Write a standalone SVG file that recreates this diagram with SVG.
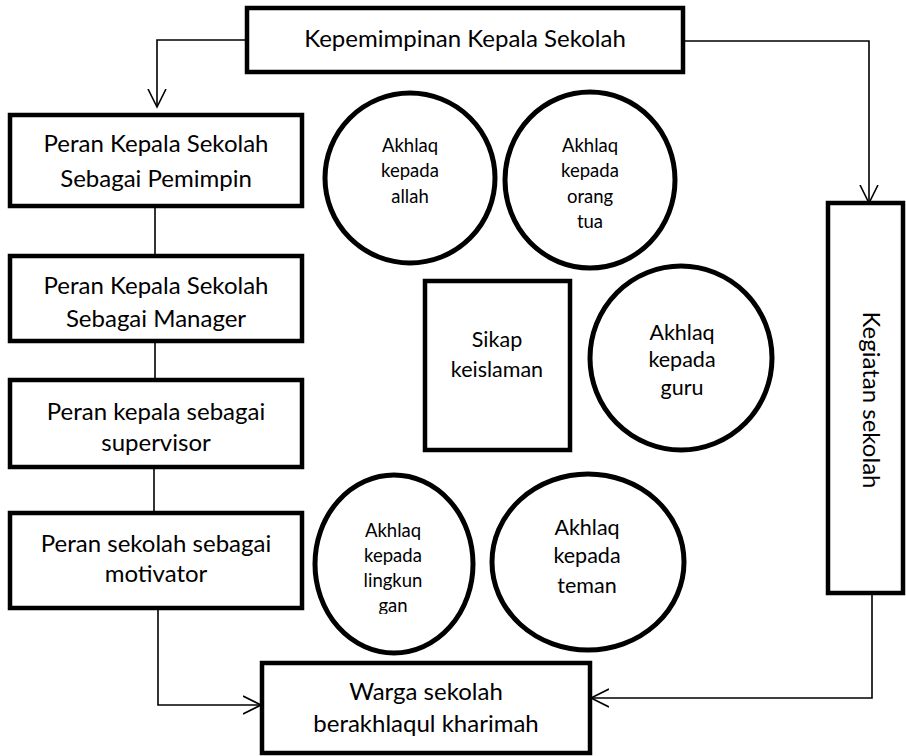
<svg xmlns="http://www.w3.org/2000/svg" width="906" height="756" viewBox="0 0 906 756">
<style>
.box{fill:#fff;stroke:#000;stroke-width:4.5}
.circ{fill:#fff;stroke:#000;stroke-width:5}
.con{fill:none;stroke:#000;stroke-width:1.6}
text{font-family:Lato,"Open Sans","Liberation Sans",sans-serif;fill:#000;text-anchor:middle}
.t24{font-size:24px}
.t22{font-size:21.5px}
.t18{font-size:18.5px}
</style>
<defs>
<marker id="arr" markerWidth="22" markerHeight="22" refX="18" refY="10" orient="auto" markerUnits="userSpaceOnUse">
<path d="M0,1 L18,10 L0,19" fill="none" stroke="#000" stroke-width="1.6"/>
</marker>
<clipPath id="clipL"><rect x="300" y="470" width="200" height="144"/></clipPath>
</defs>
<rect width="906" height="756" fill="#fff"/>
<g id="connectors">
<path class="con" d="M247,40 H157 V107" marker-end="url(#arr)"/>
<path class="con" d="M683,41 H869 V203" marker-end="url(#arr)"/>
<path class="con" d="M155,208 V254"/>
<path class="con" d="M155,343 V378"/>
<path class="con" d="M154,469 V511"/>
<path class="con" d="M158,610 V705 H261" marker-end="url(#arr)"/>
<path class="con" d="M872,595 V698 H591" marker-end="url(#arr)"/>
</g>
<g id="kepemimpinan">
<rect class="box" x="247" y="8" width="436" height="64"/>
<text class="t24" x="465" y="47">Kepemimpinan Kepala Sekolah</text>
</g>
<g id="pemimpin">
<rect class="box" x="10" y="115" width="292" height="91"/>
<text class="t24" x="156" y="152">Peran Kepala Sekolah</text>
<text class="t24" x="156" y="187">Sebagai Pemimpin</text>
</g>
<g id="manager">
<rect class="box" x="10" y="256" width="292" height="85"/>
<text class="t24" x="156" y="294">Peran Kepala Sekolah</text>
<text class="t24" x="156" y="327">Sebagai Manager</text>
</g>
<g id="supervisor">
<rect class="box" x="10" y="380" width="292" height="87"/>
<text class="t24" x="156" y="420">Peran kepala sebagai</text>
<text class="t24" x="156" y="451">supervisor</text>
</g>
<g id="motivator">
<rect class="box" x="10" y="513" width="292" height="95"/>
<text class="t24" x="156" y="552">Peran sekolah sebagai</text>
<text class="t24" x="156" y="582">motivator</text>
</g>
<g id="allah">
<ellipse class="circ" cx="410" cy="178" rx="85" ry="85"/>
<text class="t18" x="410" y="152">Akhlaq</text>
<text class="t18" x="410" y="177">kepada</text>
<text class="t18" x="410" y="203">allah</text>
</g>
<g id="orangtua">
<ellipse class="circ" cx="590" cy="180" rx="85" ry="88"/>
<text class="t18" x="590" y="152">Akhlaq</text>
<text class="t18" x="590" y="177">kepada</text>
<text class="t18" x="590" y="203">orang</text>
<text class="t18" x="590" y="228">tua</text>
</g>
<g id="sikap">
<rect class="box" x="425" y="281" width="145" height="169"/>
<text class="t22" x="497" y="347">Sikap</text>
<text class="t22" x="497" y="377">keislaman</text>
</g>
<g id="guru">
<ellipse class="circ" cx="681" cy="358" rx="91" ry="92"/>
<text class="t22" x="682" y="340">Akhlaq</text>
<text class="t22" x="682" y="367">kepada</text>
<text class="t22" x="682" y="395">guru</text>
</g>
<g id="lingkungan">
<ellipse class="circ" cx="394" cy="564" rx="79" ry="89"/>
<g clip-path="url(#clipL)">
<text class="t18" x="393" y="537">Akhlaq</text>
<text class="t18" x="393" y="562">kepada</text>
<text class="t18" x="393" y="587">lingkun</text>
<text class="t18" x="393" y="612">gan</text>
</g>
</g>
<g id="teman">
<ellipse class="circ" cx="588" cy="562" rx="96" ry="88"/>
<text class="t22" x="587" y="535">Akhlaq</text>
<text class="t22" x="587" y="563">kepada</text>
<text class="t22" x="587" y="593">teman</text>
</g>
<g id="kegiatan">
<rect class="box" x="828" y="203" width="75" height="390"/>
<text class="t24" transform="translate(863,400) rotate(90)">Kegiatan sekolah</text>
</g>
<g id="warga">
<rect class="box" x="262" y="663" width="328" height="90"/>
<text class="t24" x="426" y="700">Warga sekolah</text>
<text class="t24" x="426" y="732">berakhlaqul kharimah</text>
</g>
</svg>
